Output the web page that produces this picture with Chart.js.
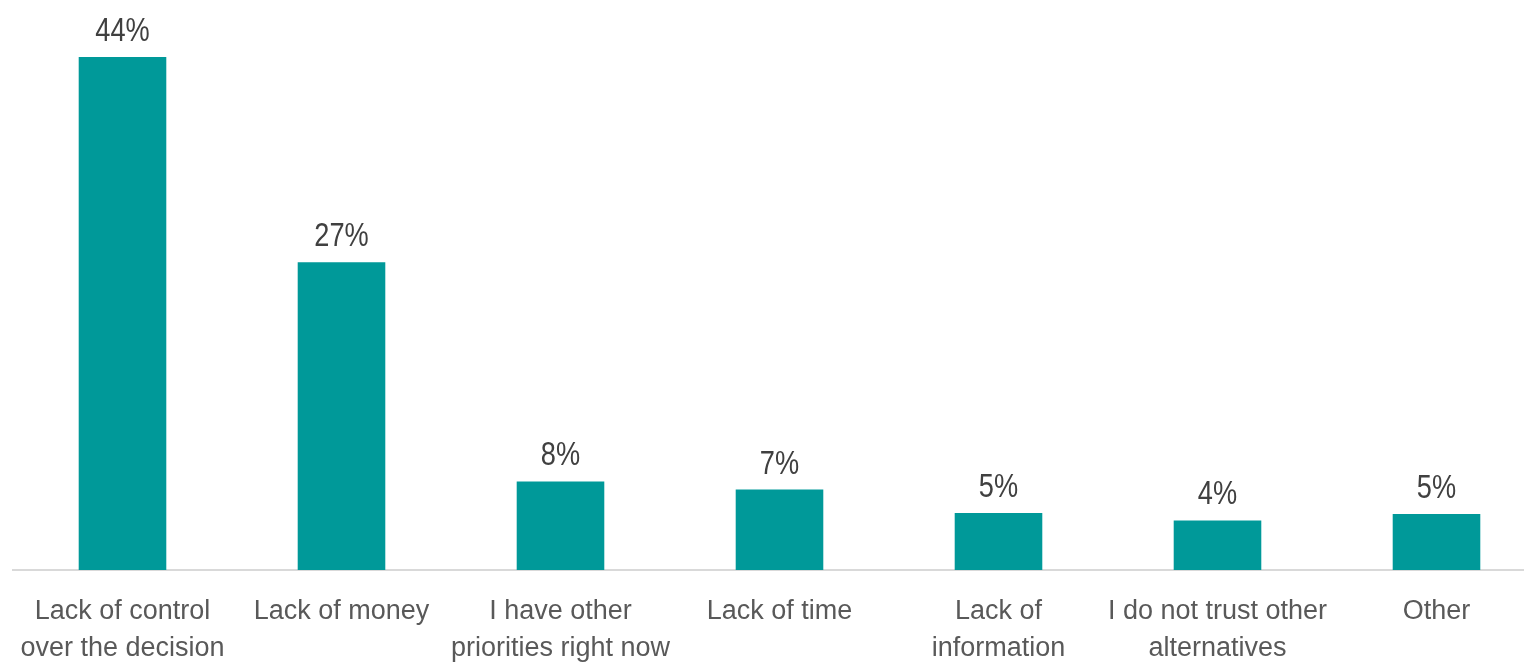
<!DOCTYPE html>
<html>
<head>
<meta charset="utf-8">
<script src="https://cdn.jsdelivr.net/npm/chart.js@4/dist/chart.umd.min.js"></script>
<style>
  html, body { margin: 0; padding: 0; background: #fff; overflow: hidden; }
  #wrap { width: 1560px; height: 663px; position: relative; }
</style>
</head>
<body>
<div id="wrap"><canvas id="chart"></canvas></div>
<script>
const categories = [
  ["Lack of control", "over the decision"],
  "Lack of money",
  ["I have other", "priorities right now"],
  "Lack of time",
  ["Lack of", "information"],
  ["I do not trust other", "alternatives"],
  "Other"
];
const shares = [44, 26.4, 7.6, 6.9, 4.9, 4.25, 4.8];
const shareLabels = ["44%", "27%", "8%", "7%", "5%", "4%", "5%"];

const FONT = '"Liberation Sans Narrow", "Liberation Sans", Arial, sans-serif';

// value labels above each bar, squeezed a bit to look like a narrow face
const barLabels = {
  id: "barLabels",
  afterDatasetsDraw(chart) {
    const ctx = chart.ctx;
    const meta = chart.getDatasetMeta(0);
    ctx.save();
    ctx.font = "34px " + FONT;
    ctx.fillStyle = "#404040";
    ctx.textAlign = "center";
    ctx.textBaseline = "alphabetic";
    meta.data.forEach((bar, i) => {
      ctx.save();
      ctx.translate(bar.x, bar.y - 16);
      ctx.scale(0.8, 1);
      ctx.fillText(shareLabels[i], 0, 0);
      ctx.restore();
    });
    ctx.restore();
  }
};

new Chart(document.getElementById("chart"), {
  type: "bar",
  data: {
    labels: categories,
    datasets: [{
      data: shares,
      backgroundColor: "#009999",
      borderWidth: 0,
      barPercentage: 0.4,
      categoryPercentage: 1
    }]
  },
  options: {
    responsive: true,
    maintainAspectRatio: false,
    animation: false,
    layout: { padding: { left: 13, right: 14, top: 0, bottom: 0 } },
    plugins: { legend: { display: false }, tooltip: { enabled: false } },
    scales: {
      x: {
        grid: { display: false },
        border: { display: true, color: "#d9d9d9", width: 2 },
        afterFit(scale) { scale.height = 93; },
        ticks: {
          color: "#595959",
          padding: 15,
          maxRotation: 0,
          autoSkip: false,
          font: { family: FONT, size: 27, lineHeight: 1.38 }
        }
      },
      y: {
        display: false,
        min: 0,
        max: 48.9
      }
    }
  },
  plugins: [barLabels]
});
</script>
</body>
</html>
